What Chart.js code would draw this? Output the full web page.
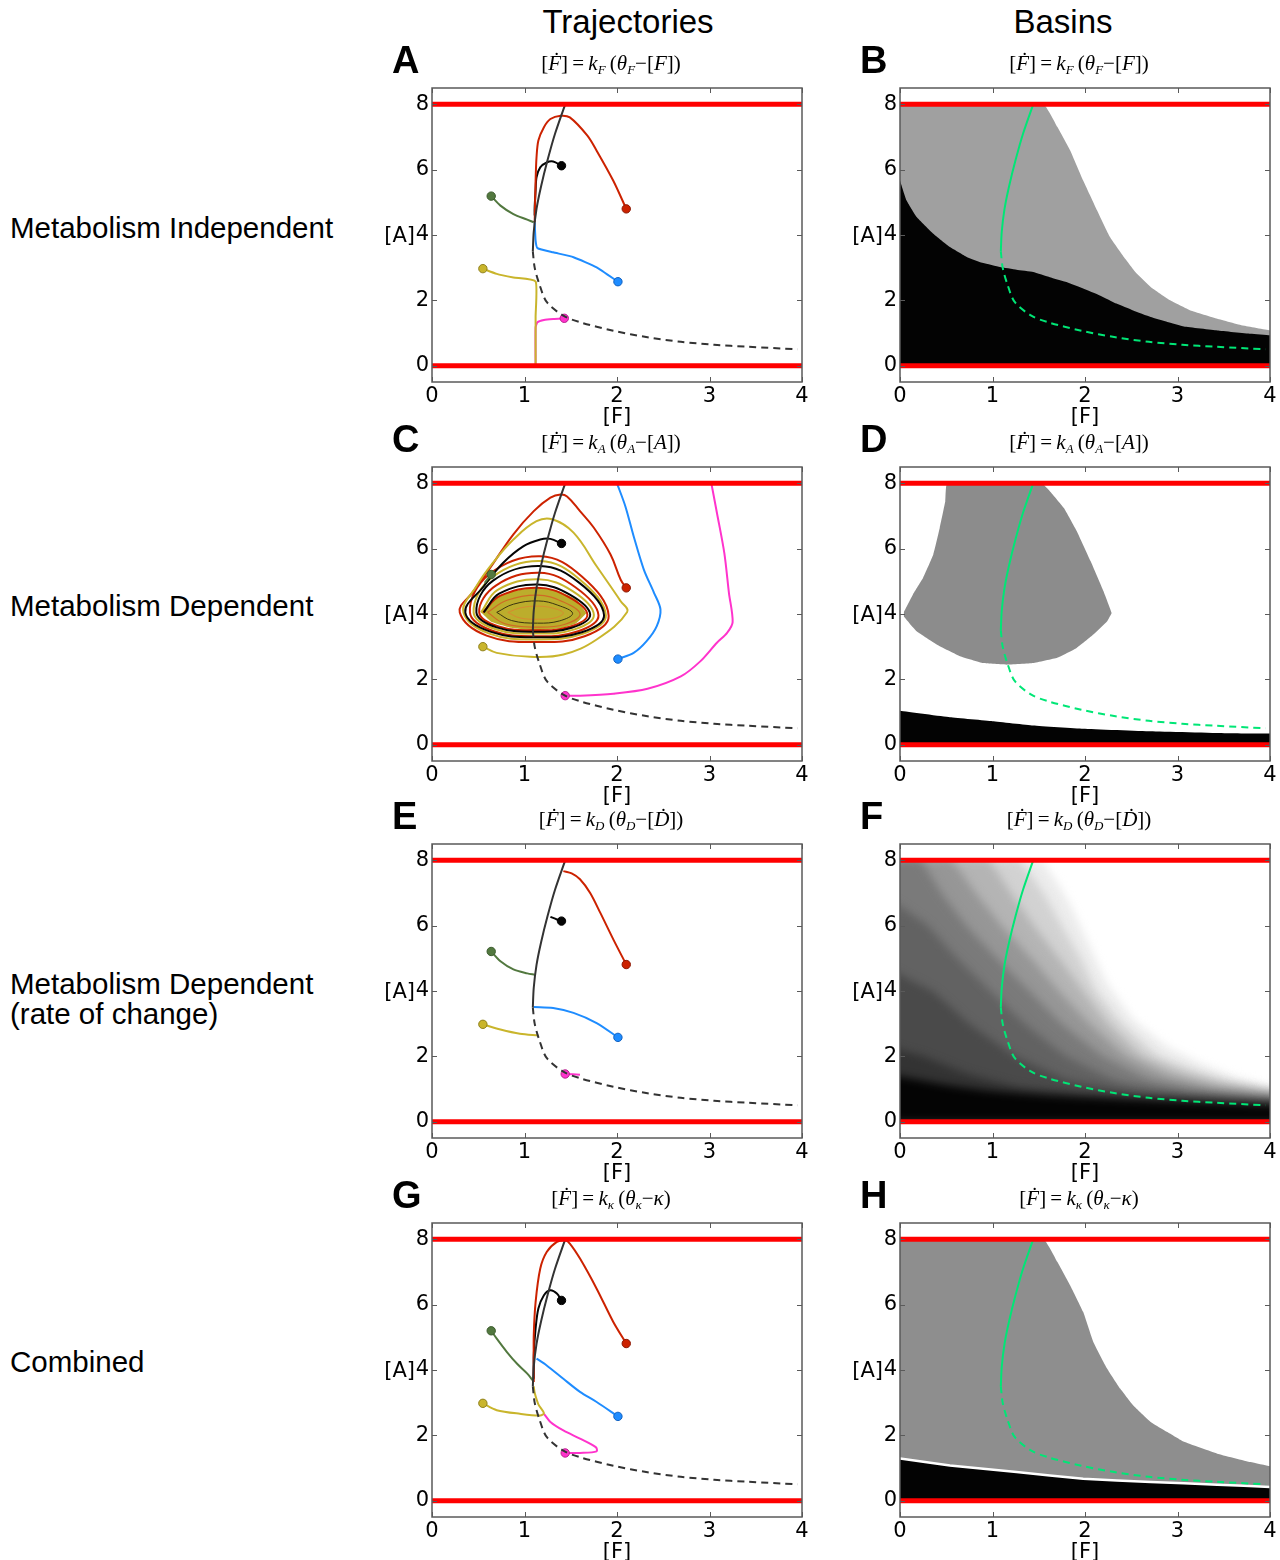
<!DOCTYPE html>
<html>
<head>
<meta charset="utf-8">
<title>Trajectories and basins</title>
<script src="https://cdn.jsdelivr.net/npm/chart.js@4.4.1/dist/chart.umd.min.js"></script>
<style>
  html, body { margin: 0; padding: 0; background: #fff; overflow: hidden; }
  #fig { position: relative; width: 1280px; height: 1560px; overflow: hidden;
         font-family: "Liberation Sans", Arial, sans-serif; color: #000; }
  .abs { position: absolute; white-space: nowrap; }
  .head { font-size: 33px; line-height: 40px; transform: translateX(-50%); }
  .row { font-size: 29.5px; line-height: 31px; left: 10px; }
  .row2 { line-height: 30px; }
  .letter { font-size: 38px; font-weight: bold; line-height: 40px; }
  .eq { font-family: "Liberation Serif", "DejaVu Serif", serif; font-size: 21px; line-height: 26px;
        transform: translateX(-50%); }
  .eq sub { font-size: 13px; vertical-align: -4px; }
  .lab { font-family: "DejaVu Sans", sans-serif; font-size: 21px; line-height: 24px; }
  canvas { position: absolute; }
</style>
</head>
<body>
<div id="fig"></div>
<script>
// ---- axes ----
const fTicks = [0, 1, 2, 3, 4];
const aTicks = [0, 2, 4, 6, 8];

// red walls at [A] = 0 and [A] = 8
const wallLow = [[0, 0], [4, 0]];
const wallHigh = [[0, 8], [4, 8]];

// [F] nullcline: stable branch (solid) and unstable branch (dashed)
const nullStable = [[1.09, 3.5], [1.10, 4.1], [1.13, 4.8], [1.18, 5.5], [1.25, 6.3], [1.33, 7.1], [1.44, 8.0]];
const nullUnstable = [[1.09, 3.5], [1.11, 3.0], [1.16, 2.5], [1.24, 1.95], [1.42, 1.53], [1.6, 1.33], [1.96, 1.07],
  [2.33, 0.87], [2.69, 0.73], [3.05, 0.64], [3.41, 0.58], [3.95, 0.5]];

// ---- A: metabolism independent ----
const aRed = [[2.10, 4.80], [1.96, 5.66], [1.78, 6.58], [1.68, 7.04], [1.49, 7.6], [1.39, 7.65], [1.28, 7.55],
  [1.21, 7.3], [1.15, 6.89], [1.13, 6.38], [1.12, 5.66], [1.11, 4.4]];
const aBlack = [[1.40, 6.12], [1.31, 6.25], [1.24, 6.22], [1.17, 6.07], [1.13, 5.77], [1.12, 5.36], [1.11, 4.85], [1.11, 4.6]];
const aGreen = [[0.64, 5.19], [0.74, 4.9], [0.88, 4.64], [1.03, 4.47], [1.10, 4.39]];
const aBlue = [[2.01, 2.57], [1.78, 3.01], [1.53, 3.32], [1.31, 3.47], [1.14, 3.6], [1.12, 3.83], [1.11, 4.39]];
const aYellow = [[0.55, 2.97], [0.70, 2.81], [0.88, 2.70], [1.12, 2.58], [1.12, 1.5], [1.12, 0]];
const aMagenta = [[1.43, 1.45], [1.31, 1.43], [1.21, 1.40], [1.14, 1.33], [1.12, 1.17], [1.12, 0]];

// ---- C: metabolism dependent (spirals into the limit cycle) ----
const cRed = [[2.10, 4.80], [2.04, 5.05], [1.93, 5.82], [1.75, 6.64], [1.60, 7.15], [1.46, 7.60], [1.39, 7.66],
  [1.28, 7.56], [1.10, 7.15], [0.88, 6.44], [0.63, 5.42], [0.45, 4.70],
  [0.30, 4.05], [0.59, 3.34], [1.14, 3.14], [1.65, 3.32], [1.91, 3.94], [1.62, 5.15], [1.17, 5.77], [0.62, 5.22],
  [0.41, 4.05], [0.66, 3.48], [1.13, 3.32], [1.58, 3.47], [1.80, 3.96], [1.55, 4.82], [1.16, 5.26], [0.69, 4.87],
  [0.51, 4.05], [0.72, 3.62], [1.12, 3.50], [1.49, 3.61], [1.68, 3.98], [1.47, 4.53], [1.14, 4.80], [0.74, 4.56], [0.55, 4.05]];
const cYellow = [[0.55, 3.00], [0.70, 2.81], [1.06, 2.69], [1.42, 2.76], [1.78, 3.22], [2.11, 4.06], [2.04, 4.39],
  [1.78, 5.46], [1.53, 6.49], [1.30, 6.90], [1.13, 6.84], [0.88, 6.28], [0.66, 5.57], [0.48, 4.85],
  [0.34, 4.05], [0.62, 3.40], [1.14, 3.22], [1.63, 3.39], [1.88, 3.95], [1.60, 5.05], [1.17, 5.62], [0.65, 5.12],
  [0.45, 4.05], [0.68, 3.54], [1.13, 3.40], [1.54, 3.53], [1.75, 3.97], [1.52, 4.70], [1.15, 5.06], [0.71, 4.74], [0.53, 4.05]];
const cBlack = [[1.40, 6.16], [1.28, 6.30], [1.17, 6.28], [0.99, 6.08], [0.77, 5.57], [0.56, 4.85],
  [0.36, 4.05], [0.63, 3.46], [1.14, 3.29], [1.62, 3.44], [1.86, 3.96], [1.59, 4.96], [1.17, 5.47], [0.66, 5.02],
  [0.48, 4.05], [0.70, 3.59], [1.12, 3.46], [1.51, 3.58], [1.71, 3.98], [1.49, 4.59], [1.14, 4.90], [0.73, 4.63], [0.56, 4.05]];
const cGreen = [[0.64, 5.21], [0.57, 4.95]];
const cBlue = [[2.01, 2.62], [2.18, 2.81], [2.32, 3.17], [2.43, 3.63], [2.47, 4.14], [2.40, 4.65], [2.29, 5.36],
  [2.18, 6.38], [2.09, 7.30], [2.00, 8.0]];
const cMagenta = [[1.44, 1.50], [1.60, 1.50], [1.96, 1.56], [2.33, 1.71], [2.69, 2.09], [2.90, 2.55], [3.08, 3.12],
  [3.19, 3.42], [3.25, 3.75], [3.21, 4.65], [3.16, 5.87], [3.08, 7.10], [3.02, 8.0]];
const cCoreTop = [[0.53, 4.05], [0.65, 4.42], [0.85, 4.68], [1.12, 4.80], [1.38, 4.69], [1.56, 4.44], [1.67, 4.03]];
const cCoreBottom = [[0.53, 4.05], [0.64, 3.76], [0.85, 3.58], [1.12, 3.50], [1.38, 3.56], [1.56, 3.72], [1.67, 4.03]];
const cRing1 = [[0.60, 4.05], [0.79, 3.70], [1.12, 3.60], [1.43, 3.68], [1.60, 4.00], [1.41, 4.38], [1.14, 4.58], [0.81, 4.42], [0.60, 4.05]];
const cRing2 = [[0.70, 4.05], [0.86, 3.80], [1.14, 3.72], [1.38, 3.79], [1.52, 4.02], [1.36, 4.27], [1.15, 4.40], [0.88, 4.30], [0.70, 4.05]];
const cRing3 = [[0.82, 4.05], [0.95, 3.88], [1.15, 3.84], [1.33, 3.88], [1.42, 4.03], [1.32, 4.17], [1.15, 4.24], [0.96, 4.19], [0.82, 4.05]];

// ---- E: metabolism dependent (rate of change) ----
const eRed = [[2.10, 4.81], [1.96, 5.58], [1.82, 6.39], [1.71, 7.0], [1.60, 7.42], [1.51, 7.6], [1.42, 7.67]];
const eBlack = [[1.40, 6.14], [1.35, 6.19], [1.28, 6.27]];
const eGreen = [[0.64, 5.21], [0.74, 4.91], [0.88, 4.66], [1.03, 4.54], [1.11, 4.5]];
const eBlue = [[2.01, 2.58], [1.78, 3.02], [1.53, 3.33], [1.31, 3.48], [1.10, 3.51]];
const eYellow = [[0.55, 2.98], [0.74, 2.82], [0.95, 2.69], [1.15, 2.64]];
const eMagenta = [[1.44, 1.46], [1.60, 1.44]];

// ---- G: combined ----
const gRed = [[2.10, 4.81], [1.96, 5.47], [1.78, 6.49], [1.60, 7.41], [1.49, 7.87], [1.44, 7.97], [1.35, 7.92],
  [1.24, 7.61], [1.17, 7.10], [1.12, 6.08], [1.10, 5.06], [1.10, 4.24], [1.10, 3.63]];
const gBlack = [[1.40, 6.13], [1.35, 6.34], [1.28, 6.44], [1.21, 6.29], [1.15, 5.88], [1.12, 5.27], [1.10, 4.45], [1.10, 3.73]];
const gGreen = [[0.64, 5.20], [0.70, 4.96], [0.81, 4.55], [0.92, 4.19], [1.03, 3.89], [1.09, 3.68]];
const gBlue = [[2.01, 2.58], [1.78, 3.02], [1.60, 3.33], [1.42, 3.73], [1.24, 4.14], [1.13, 4.35]];
const gYellow = [[0.55, 2.98], [0.70, 2.77], [0.95, 2.66], [1.17, 2.61], [1.21, 2.68], [1.15, 2.95], [1.11, 3.3], [1.10, 3.5]];
const gMagenta = [[1.44, 1.46], [1.60, 1.46], [1.78, 1.51], [1.77, 1.64], [1.60, 1.90], [1.42, 2.15], [1.28, 2.41], [1.21, 2.66]];

// ---- basins ----
const bGray = [[0, 8], [1.55, 8], [1.70, 7.31], [1.84, 6.59], [1.98, 5.67], [2.13, 4.76], [2.27, 3.94], [2.42, 3.33],
  [2.56, 2.82], [2.71, 2.41], [2.92, 2.0], [3.14, 1.69], [3.43, 1.44], [3.71, 1.23], [4, 1.08]];
const bBlack = [[0, 5.67], [0.07, 5.06], [0.18, 4.55], [0.36, 4.04], [0.54, 3.63], [0.72, 3.33], [0.9, 3.14], [1.08, 3.02],
  [1.26, 2.94], [1.44, 2.87], [1.62, 2.71], [1.80, 2.56], [1.98, 2.36], [2.16, 2.15], [2.34, 1.9], [2.52, 1.69],
  [2.71, 1.49], [2.89, 1.34], [3.07, 1.2], [3.43, 1.08], [3.79, 0.98], [4, 0.93]];

const dBlobTop = [[0.04, 4.05], [0.14, 4.6], [0.25, 5.11], [0.36, 5.82], [0.43, 6.64], [0.49, 7.46], [0.51, 8], [1.53, 8],
  [1.62, 7.76], [1.77, 7.25], [1.91, 6.54], [2.06, 5.62], [2.20, 4.70], [2.29, 4.03]];
const dBlobBottom = [[0.04, 4.05], [0.04, 3.93], [0.18, 3.47], [0.40, 3.06], [0.65, 2.71], [0.90, 2.50], [1.15, 2.45],
  [1.44, 2.50], [1.70, 2.66], [1.91, 2.96], [2.09, 3.37], [2.24, 3.78], [2.29, 4.03]];
const dBlack = [[0, 1.04], [0.54, 0.84], [1.0, 0.72], [1.44, 0.59], [1.98, 0.49], [2.71, 0.41], [3.53, 0.35], [4, 0.34]];

// F: shading levels, lightest (outer edge) first; the end points sit just past the frame
const fLevel1 = [[-0.12, 8], [1.52, 8], [1.81, 6.8], [2.02, 5.58], [2.24, 4.24], [2.53, 3.12], [2.89, 2.30], [3.25, 1.79], [3.61, 1.38], [4, 1.07], [4.12, 1.0]];
const fLevel2 = [[-0.12, 8], [1.28, 8], [1.55, 7], [1.75, 6], [1.95, 5], [2.12, 4], [2.4, 3], [2.8, 2], [3.2, 1.55], [3.6, 1.22], [4, 1.0], [4.12, 0.95]];
const fLevel3 = [[-0.12, 8], [0.95, 8], [1.2, 7], [1.45, 6], [1.72, 5], [1.98, 4], [2.25, 3], [2.62, 2], [3.05, 1.5], [3.5, 1.15], [4, 0.92], [4.12, 0.88]];
const fLevel4 = [[-0.12, 8], [0.55, 8], [0.82, 7], [1.1, 6], [1.42, 5], [1.72, 4], [2.05, 3], [2.45, 2], [2.9, 1.4], [3.4, 1.05], [4, 0.82], [4.12, 0.79]];
const fLevel5 = [[-0.12, 8], [0.22, 8], [0.45, 7], [0.72, 6], [1.05, 5], [1.4, 4], [1.75, 3], [2.2, 2], [2.7, 1.3], [3.3, 0.95], [4, 0.74], [4.12, 0.72]];
const fLevel6 = [[-0.12, 6.8], [0, 6.6], [0.3, 6], [0.62, 5], [0.98, 4], [1.35, 3], [1.8, 2], [2.35, 1.25], [3.1, 0.87], [4, 0.67], [4.12, 0.65]];
const fLevel7 = [[-0.12, 4.7], [0, 4.5], [0.35, 4], [0.75, 3], [1.25, 2], [1.8, 1.3], [2.6, 0.9], [4, 0.6], [4.12, 0.58]];
const fLevel8 = [[-0.12, 2.35], [0, 2.2], [0.25, 2], [0.7, 1.5], [1.3, 1.05], [2.2, 0.8], [4, 0.53], [4.12, 0.52]];
const fBlack = [[-0.12, 1.42], [0, 1.38], [0.5, 1.12], [1, 0.93], [1.5, 0.82], [2, 0.74], [2.5, 0.67], [3, 0.61], [3.5, 0.55], [4, 0.5], [4.12, 0.49]];
const fShades = ['#ececec', '#d2d2d2', '#b4b4b4', '#969696', '#7a7a7a', '#626262', '#4a4a4a', '#333333'];

const hGray = [[0, 8], [1.55, 8], [1.70, 7.31], [1.84, 6.59], [1.98, 5.78], [2.09, 4.86], [2.24, 4.04], [2.38, 3.43],
  [2.52, 2.92], [2.71, 2.41], [2.89, 2.10], [3.07, 1.80], [3.43, 1.44], [3.79, 1.18], [4, 1.05]];
const hBlack = [[0, 1.29], [0.54, 1.08], [1.26, 0.88], [1.98, 0.67], [2.71, 0.57], [3.43, 0.49], [4, 0.42]];

// ---- text ----
const headers = ['Trajectories', 'Basins'];
const rowLabels = ['Metabolism Independent', 'Metabolism Dependent', 'Metabolism Dependent<br>(rate of change)', 'Combined'];
const equations = [
  '[<i>Ḟ</i>]\u2009=\u2009<i>k<sub>F</sub></i>\u2009(<i>θ<sub>F</sub></i>−[<i>F</i>])',
  '[<i>Ḟ</i>]\u2009=\u2009<i>k<sub>A</sub></i>\u2009(<i>θ<sub>A</sub></i>−[<i>A</i>])',
  '[<i>Ḟ</i>]\u2009=\u2009<i>k<sub>D</sub></i>\u2009(<i>θ<sub>D</sub></i>−[<i>Ḋ</i>])',
  '[<i>Ḟ</i>]\u2009=\u2009<i>k<sub>κ</sub></i>\u2009(<i>θ<sub>κ</sub></i>−<i>κ</i>)'
];
const letters = [['A', 'B'], ['C', 'D'], ['E', 'F'], ['G', 'H']];

// ---- layout ----
const rowTops = [88, 467, 844, 1223];
const colLefts = [432, 900];
const plotW = 370, plotH = 294;
const AXIS_W = 45, AXIS_H = 50, PAD_T = 20, PAD_R = 14;

const col = {
  red: ['#cc2200', '#8a1600'],
  black: ['#050505', '#000000'],
  green: ['#52783f', '#3a5a2c'],
  blue: ['#1e8cff', '#1060c0'],
  yellow: ['#c9b52c', '#8f801c'],
  magenta: ['#ff33cc', '#b8208f']
};

Chart.defaults.font.family = '"DejaVu Sans", sans-serif';
Chart.defaults.color = '#000';

const xy = a => a.map(([x, y]) => ({ x, y }));

function curve(a, color, width, extra) {
  return Object.assign({
    data: xy(a), borderColor: color, backgroundColor: color, borderWidth: width,
    pointRadius: 0, tension: 0.3, fill: false
  }, extra);
}

function traj(a, c, extra) {
  return curve(a, c[0], 2, Object.assign({
    order: 3,
    pointRadius: ctx => (ctx.dataIndex === 0 ? 4.2 : 0),
    pointBackgroundColor: c[0], pointBorderColor: c[1], pointBorderWidth: 1
  }, extra));
}

function region(a, color, order, fill) {
  return curve(a, color, 0, { order, fill: fill === undefined ? 'origin' : fill, tension: 0.1 });
}

function frame(nullColor) {
  return [
    curve(wallLow, '#ff0000', 5, { order: 0, tension: 0 }),
    curve(wallHigh, '#ff0000', 5, { order: 0, tension: 0 }),
    curve(nullStable, nullColor, 2, { order: 1 }),
    curve(nullUnstable, nullColor, 2, { order: 1, borderDash: [7, 5] })
  ];
}

const framePlugin = {
  id: 'frame',
  afterDraw(chart) {
    const { ctx, chartArea: a, scales } = chart;
    ctx.save();
    ctx.filter = 'none';
    ctx.strokeStyle = '#5a5a5a';
    ctx.lineWidth = 1;
    ctx.beginPath();
    for (const t of scales.x.ticks) {
      const px = Math.round(scales.x.getPixelForValue(t.value)) + 0.5;
      ctx.moveTo(px, a.top); ctx.lineTo(px, a.top + 5);
      ctx.moveTo(px, a.bottom); ctx.lineTo(px, a.bottom - 5);
    }
    for (const t of scales.y.ticks) {
      const py = Math.round(scales.y.getPixelForValue(t.value)) + 0.5;
      ctx.moveTo(a.left, py); ctx.lineTo(a.left + 5, py);
      ctx.moveTo(a.right, py); ctx.lineTo(a.right - 5, py);
    }
    ctx.stroke();
    ctx.lineWidth = 1.5;
    ctx.strokeRect(a.left, a.top, a.right - a.left, a.bottom - a.top);
    ctx.restore();
  }
};

// softens the stepped shading of panel F: the filler draws all areas first, blurred and
// kept between the two walls, then the lines are drawn sharp
const softShade = {
  id: 'softShade',
  beforeDraw(chart) {
    const { ctx, chartArea: a, scales } = chart;
    const top = scales.y.getPixelForValue(wallHigh[0][1]);
    const bottom = scales.y.getPixelForValue(wallLow[0][1]);
    ctx.save();
    ctx.beginPath();
    ctx.rect(a.left, top, a.right - a.left, bottom - top);
    ctx.clip();
    ctx.filter = 'blur(4px)';
  },
  beforeDatasetsDraw(chart) {
    chart.ctx.restore();
    chart.ctx.filter = 'none';
  }
};

const fig = document.getElementById('fig');

function text(cls, html, left, top, style) {
  const d = document.createElement('div');
  d.className = 'abs ' + cls;
  d.innerHTML = html;
  d.style.left = left + 'px';
  d.style.top = top + 'px';
  if (style) Object.assign(d.style, style);
  fig.appendChild(d);
}

function panel(c, r, datasets, soft) {
  const left = colLefts[c], top = rowTops[r];
  const cv = document.createElement('canvas');
  cv.width = AXIS_W + plotW + PAD_R;
  cv.height = PAD_T + plotH + AXIS_H;
  cv.style.left = (left - AXIS_W) + 'px';
  cv.style.top = (top - PAD_T) + 'px';
  fig.appendChild(cv);

  new Chart(cv, {
    type: 'line',
    data: { datasets },
    options: {
      responsive: false,
      animation: false,
      devicePixelRatio: 1,
      events: [],
      layout: { padding: { left: 0, top: PAD_T, right: PAD_R, bottom: 0 } },
      plugins: {
        legend: { display: false },
        tooltip: { enabled: false },
        filler: { drawTime: soft ? 'beforeDatasetsDraw' : 'beforeDatasetDraw' }
      },
      scales: {
        x: {
          type: 'linear', min: 0, max: 4,
          grid: { display: false, drawTicks: false },
          border: { display: false },
          ticks: { font: { size: 21 }, padding: 2, maxRotation: 0, autoSkip: false, z: 1 },
          afterBuildTicks: s => { s.ticks = fTicks.map(v => ({ value: v })); },
          afterFit: s => { s.height = AXIS_H; }
        },
        y: {
          type: 'linear', min: -0.5, max: 8.5,
          grid: { display: false, drawTicks: false },
          border: { display: false },
          ticks: { font: { size: 21 }, padding: 3, autoSkip: false, z: 1 },
          afterBuildTicks: s => { s.ticks = aTicks.map(v => ({ value: v })); },
          afterFit: s => { s.width = AXIS_W; }
        }
      }
    },
    plugins: soft ? [softShade, framePlugin] : [framePlugin]
  });

  text('letter', letters[r][c], left - 40, top - 48);
  text('eq', equations[r], left + 179, top - 38);
  text('lab', '[A]', left - 62, top + 135, { width: '45px', textAlign: 'right' });
  text('lab', '[F]', left + 185, top + 316, { transform: 'translateX(-50%)' });
}

// headers and row labels
text('head', headers[0], 628, 2);
text('head', headers[1], 1063, 2);
text('row', rowLabels[0], 10, 212);
text('row', rowLabels[1], 10, 590);
text('row row2', rowLabels[2], 10, 969);
text('row', rowLabels[3], 10, 1346);

const nullDark = '#333333';
const nullGreen = '#00e676';

// A
panel(0, 0, [
  ...frame(nullDark),
  traj(aYellow, col.yellow, { tension: 0.15 }),
  traj(aMagenta, col.magenta, { tension: 0.15 }),
  traj(aRed, col.red),
  traj(aBlack, col.black),
  traj(aGreen, col.green),
  traj(aBlue, col.blue, { tension: 0.15 })
]);

// B
panel(1, 0, [
  ...frame(nullGreen),
  region(bBlack, '#030303', 9),
  region(bGray, '#a0a0a0', 10)
]);

// C
panel(0, 1, [
  ...frame(nullDark),
  traj(cBlue, col.blue),
  traj(cMagenta, col.magenta),
  traj(cGreen, col.green),
  traj(cBlack, col.black, { tension: 0.4, order: 4 }),
  traj(cYellow, col.yellow, { tension: 0.4, order: 4 }),
  traj(cRed, col.red, { tension: 0.4, order: 4 }),
  curve(cRing1, '#cf6a25', 1.2, { tension: 0.4, order: 5 }),
  curve(cRing2, '#3a3410', 1, { tension: 0.4, order: 5 }),
  curve(cRing3, '#d88a30', 1, { tension: 0.4, order: 5 }),
  region(cCoreTop, '#bcad2c', 6, '+1'),
  region(cCoreBottom, '#bcad2c', 6, false)
]);

// D
panel(1, 1, [
  ...frame(nullGreen),
  region(dBlack, '#030303', 9),
  region(dBlobTop, '#8c8c8c', 10, '+1'),
  region(dBlobBottom, '#8c8c8c', 10, false)
]);

// E
panel(0, 2, [
  ...frame(nullDark),
  traj(eRed, col.red),
  traj(eBlack, col.black),
  traj(eGreen, col.green),
  traj(eBlue, col.blue),
  traj(eYellow, col.yellow),
  traj(eMagenta, col.magenta)
]);

// F
const fLevels = [fLevel1, fLevel2, fLevel3, fLevel4, fLevel5, fLevel6, fLevel7, fLevel8];
panel(1, 2, [
  ...frame(nullGreen),
  region(fBlack, '#040404', 10),
  ...fLevels.map((lv, i) => region(lv, fShades[i], 20 - i))
], true);

// G
panel(0, 3, [
  ...frame(nullDark),
  traj(gRed, col.red),
  traj(gBlack, col.black),
  traj(gBlue, col.blue),
  traj(gGreen, col.green),
  traj(gYellow, col.yellow),
  traj(gMagenta, col.magenta)
]);

// H
panel(1, 3, [
  ...frame(nullGreen),
  curve(hBlack, '#ffffff', 2.5, { order: 9, fill: 'origin', backgroundColor: '#030303', tension: 0.1 }),
  region(hGray, '#8e8e8e', 10)
]);
</script>
</body>
</html>
